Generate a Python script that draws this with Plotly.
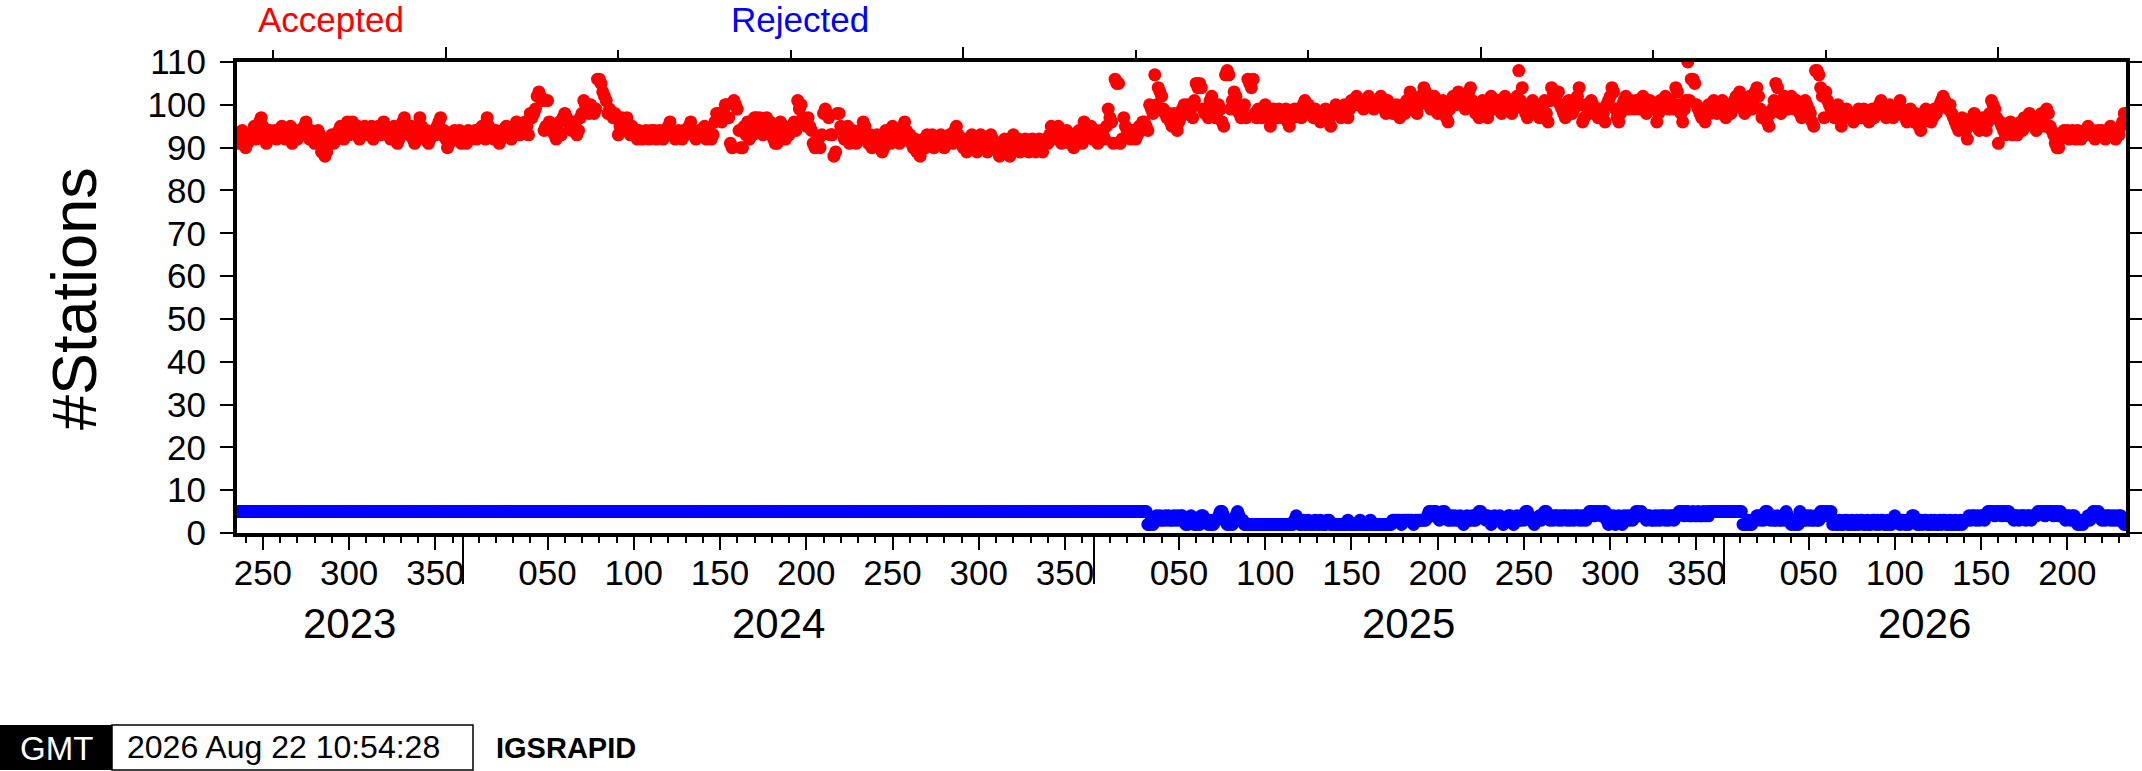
import plotly.graph_objects as go
from datetime import date, timedelta

# ---------------- data ----------------
start_date = date(2023, 8, 23)   # first daily value
range_end = date(2026, 8, 22)

acc_2023 = [92, 91, 93, 94, 92, 90, 91, 93, 92,
            93, 95, 92, 94, 96, 97, 95, 93, 91, 92, 94, 93,
            93, 94, 92, 93, 94, 95, 93, 92, 94, 93,
            95, 91, 93, 94, 92, 93, 94, 93, 95, 96,
            93, 92, 94, 93, 91, 92, 94, 93, 89, 90,
            88, 89, 91, 92, 93, 91,
            93, 92, 94, 95, 93, 92, 94, 96, 93, 95,
            96, 94, 93, 95, 92, 94, 93, 95, 94, 93,
            94, 95, 92, 93, 94, 95, 93, 94, 96, 95,
            93, 94, 92, 93, 95, 94, 91, 92, 95, 96,
            97, 95, 94, 93, 95, 92, 91, 93, 94, 97,
            95, 93, 92, 94, 91, 92, 93, 94, 93, 95,
            96, 97, 93, 94, 92, 90, 91, 92, 93, 94,
            92, 93, 94, 91]

acc_2024 = [92, 93, 91, 94, 93, 92, 93, 94, 92, 93,
            94, 95, 93, 92, 97, 95, 94, 93, 92, 94,
            93, 91, 92, 94, 93, 95, 94, 93, 92, 94,
            95, 96, 94, 93, 95, 94, 96, 95, 93, 98,
            97, 98, 99, 102, 103, 102, 101, 94, 95, 101,
            96, 94, 95, 93, 92, 94, 96, 93, 97, 98,
            97, 96, 95, 94, 96, 95, 93, 94, 97, 98,
            101, 100, 99, 98, 100, 99, 98, 99, 106, 106,
            105, 103, 102, 101, 98, 99, 98, 97, 98, 97,
            93, 95, 97, 96, 95, 97, 94, 93, 95, 94,
            93, 92, 94, 93, 92, 93, 94, 93, 92, 94,
            93, 94, 92, 93, 94, 93, 92, 94, 93, 95,
            96, 94, 93, 92, 93, 94, 93, 92, 94, 93,
            94, 95, 96, 94, 93, 92, 93, 94,
            94, 93, 95, 92, 93, 94, 92, 93, 96, 98,
            98, 97, 96, 98, 100, 100, 97, 91, 90, 101, 100, 99,
            94, 90, 90, 95, 93, 96, 92, 94, 93, 97,
            97, 96, 97, 95, 93, 96, 97, 94, 96, 93,
            92, 91, 91, 94, 96, 93, 95, 92, 94, 93,
            95, 94, 96, 94, 101, 99, 100, 97, 96, 95,
            97, 95, 94, 91, 90, 91, 92, 90, 93, 98,
            99, 98, 97, 93, 93, 88, 89, 98, 98, 95,
            94, 92, 93, 95, 91, 92, 94, 93, 91, 92,
            94, 93, 96, 95, 92, 91, 93, 90, 92, 91,
            93, 90, 92, 89, 90, 94, 93, 92, 91, 95,
            92, 94, 93, 91, 93, 95, 96, 94, 92, 93,
            91, 90, 92, 89, 90, 88, 91, 92, 90, 93,
            92, 91, 93, 90, 92, 91, 92, 93, 92, 90,
            91, 92, 93, 92, 91, 94, 95, 93, 92, 91,
            90, 92, 89, 91, 92, 93, 91, 90, 89, 92,
            93, 92, 90, 91, 89, 92, 93, 92, 91, 90,
            89, 88, 90, 91, 92, 90, 89, 88, 92, 93,
            91, 90, 92, 89, 90, 91, 92, 90, 89, 91,
            92, 90, 89, 91, 92, 90, 89, 91, 92, 91,
            93, 95, 94, 92, 93, 95, 94, 91, 92, 93,
            94, 92, 91, 93, 90, 92, 93, 94, 92, 91,
            96, 95, 94, 93, 95, 92]

acc_2025 = [93, 94, 91, 93,
            94, 93, 92, 95, 99, 97, 96, 91, 106, 105,
            105, 91, 92, 97, 95, 94, 93, 92, 94, 93,
            92, 93, 95, 94, 96, 96, 95, 94, 100, 99,
            98, 107, 100, 104, 103, 102, 99, 98, 97, 98,
            96, 95, 98, 95, 94, 96, 97, 99, 100, 98,
            100, 98, 99, 97, 101, 105, 104, 105, 104, 99,
            98, 99, 97, 101, 102, 99, 97, 98, 100, 99,
            96, 95, 107, 108, 107, 99, 101, 103, 102, 100,
            98, 97, 99, 100, 97, 106, 105, 104, 106, 98,
            97, 99, 98, 97, 98, 100, 99, 97, 95, 98,
            99, 98, 97, 99, 98, 97, 98, 99, 96, 95,
            98, 97, 99, 98, 99, 98, 97, 100, 101, 100,
            100, 99, 98, 97, 99, 98, 97, 96, 98, 97,
            99, 97, 96, 95, 98, 99, 100, 99, 98, 97,
            99, 100, 98, 97, 99, 101, 100, 101, 102, 100,
            101, 100, 99, 101, 100, 102, 101, 100, 99, 101,
            100, 101, 102, 100, 99, 98, 101, 100, 99, 98,
            99, 100, 98, 97, 99, 100, 98, 101, 100, 103,
            101, 100, 99, 98, 100, 102, 101, 104, 103, 101,
            100, 99, 101, 102, 99, 98, 100, 99, 101, 98,
            97, 96, 99, 101, 102, 100, 101, 103, 102, 100,
            101, 99, 102, 103, 104, 101, 100, 98, 99, 97,
            99, 101, 100, 98, 97, 100, 102, 101, 99, 100,
            101, 99, 98, 100, 102, 101, 99, 100, 98, 99,
            100, 102, 108, 101, 104, 99, 98, 97, 99, 100,
            101, 99, 100, 98, 97, 99, 100, 101, 98, 96,
            101, 104, 103, 102, 101, 103, 100, 99, 98, 97,
            99, 101, 100, 98, 99, 101, 102, 104, 100, 96,
            97, 100, 99, 98, 101, 100, 99, 98, 97, 99,
            97, 98, 96, 100, 101, 102, 104, 103, 99, 97,
            96, 98, 100, 101, 102, 100, 99, 101, 100, 99,
            101, 100, 99, 101, 102, 100, 98, 99, 101, 100,
            100, 99, 96, 98, 101, 99, 101, 102, 100, 99,
            101, 100, 99, 104, 103, 100, 98, 96, 99, 101,
            110, 101, 106, 106, 105, 100, 99, 98, 97, 99,
            96, 99, 100, 98, 99, 101, 100, 98, 99, 100,
            101]

acc_2026 = [99, 97, 99, 100, 98, 99, 101, 102, 100,
            103, 101, 99, 98, 100, 101, 102, 99, 100, 103,
            104, 102, 99, 97, 98, 97, 96, 95, 98, 99,
            101, 105, 104, 100, 98, 101, 102, 100, 99, 101,
            102, 100, 99, 101, 100, 98, 97, 99, 101, 100,
            99, 98, 96, 95, 108, 108, 107, 104, 102, 97,
            103, 101, 100, 99, 98, 97, 99, 100, 98, 95,
            97, 98, 99, 98, 97, 98, 96, 97, 98, 99,
            98, 97, 99, 98, 97, 96, 98, 99, 97, 98,
            99, 100, 101, 99, 98, 97, 99, 100, 98, 97,
            99, 98, 100, 101, 99, 98, 97, 96, 98, 99,
            97, 96, 98, 97, 95, 94, 96, 98, 99, 97,
            98, 96, 97, 99, 98, 99, 100, 101, 102, 101,
            100, 99, 100, 98, 97, 96, 95, 94, 96, 97,
            95, 94, 92, 95, 96, 97, 98, 96, 95, 94,
            96, 97, 95, 94, 96, 98, 101, 100, 99, 97,
            91, 96, 95, 94, 93, 95, 94, 96, 93, 95,
            94, 93, 95, 96, 94, 97, 95, 96, 98, 97,
            96, 95, 94, 96, 97, 98, 96, 95, 99, 98,
            95, 94, 93, 91, 90, 90, 92, 93, 94, 93,
            94, 92, 93, 94, 93, 92, 94, 93, 92, 93,
            94, 93, 95, 94, 93, 94, 92, 93, 94, 93,
            94, 93, 92, 94, 93, 95, 94, 93, 92, 94,
            93, 95, 96, 98]

# rejected stations as (value, number of consecutive days)
rej_runs = [
    [5, 528],
    [2, 2], [3, 1], [2, 1], [3, 1],
    [4, 1], [3, 1], [4, 1], [3, 2], [4, 1], [3, 1], [4, 1], [3, 2], [4, 1], [3, 1], [4, 1], [3, 1],
    [4, 2], [3, 1], [2, 2], [3, 1], [4, 1], [3, 1], [2, 2], [3, 1], [2, 1],
    [4, 2], [3, 2],
    [2, 1], [3, 1], [2, 2], [3, 2],
    [4, 1], [5, 2], [4, 1],
    [3, 1], [2, 2], [3, 1], [2, 1], [3, 1],
    [4, 1], [5, 1], [4, 1], [3, 2],
    [2, 29],
    [3, 1], [4, 1], [3, 1],
    [2, 2], [3, 1], [2, 2], [3, 1], [2, 3], [3, 1], [2, 2], [3, 1], [2, 3], [3, 2],
    [2, 10], [3, 1], [2, 6], [3, 1], [2, 5],
    [3, 1], [2, 12],
    [3, 5], [2, 1], [3, 6], [2, 1], [3, 7],
    [4, 1], [5, 2], [4, 1], [5, 2], [4, 1], [3, 1], [4, 1], [5, 2], [4, 1], [3, 2], [4, 1],
    [3, 1], [4, 1], [3, 2], [4, 1], [3, 1], [2, 1], [3, 1], [4, 1], [3, 2], [4, 1], [3, 2], [4, 1],
    [5, 2], [4, 2],
    [3, 1], [4, 1], [3, 1], [2, 1], [3, 1], [4, 1], [3, 2], [4, 1], [3, 1], [2, 1], [3, 2], [4, 2],
    [3, 1], [2, 1], [3, 1], [4, 1], [3, 2], [4, 1], [3, 1],
    [5, 2], [4, 1], [3, 1],
    [3, 1], [2, 1], [3, 2], [4, 1], [3, 1], [4, 1], [5, 2], [4, 1],
    [3, 1], [4, 1], [3, 1], [4, 2],
    [3, 1], [4, 1], [3, 1], [4, 2], [3, 1], [4, 1], [3, 1], [4, 1], [3, 1], [4, 2], [3, 1], [4, 1],
    [3, 1], [4, 1], [3, 1], [4, 1],
    [5, 3], [4, 1], [5, 3], [4, 1], [5, 2],
    [3, 1], [2, 1], [4, 1], [3, 1], [4, 1], [2, 1], [3, 1], [4, 1], [3, 1], [2, 1], [4, 1], [3, 1],
    [4, 1], [3, 1], [4, 1], [3, 1], [4, 1],
    [5, 2], [4, 1], [5, 1], [4, 2], [3, 1], [4, 2], [3, 1],
    [3, 1], [4, 1], [3, 1], [4, 1], [3, 1], [4, 2], [3, 1], [4, 1], [3, 1], [4, 2], [3, 1], [4, 2], [5, 2],
    [5, 1], [4, 1], [5, 2], [4, 2], [5, 1], [4, 1],
    [4, 1], [5, 1], [4, 2], [5, 1], [4, 1], [5, 1], [4, 1], [5, 1],
    [5, 18],
    [2, 3], [3, 1], [2, 2], [3, 1],
    [3, 1], [4, 2], [3, 1], [4, 1], [3, 1], [5, 2],
    [4, 1], [3, 1], [4, 1], [3, 2], [4, 1],
    [3, 2], [4, 1], [3, 1], [5, 1], [4, 1],
    [3, 1], [2, 1], [3, 1], [2, 1], [3, 1], [2, 1], [5, 1], [4, 1], [3, 1],
    [3, 1], [4, 1], [3, 1], [4, 1], [3, 2], [4, 1], [3, 2], [5, 2], [4, 1],
    [5, 2], [4, 1], [5, 1],
    [2, 1], [3, 1], [2, 2], [3, 1], [2, 2], [3, 2], [2, 2], [3, 1], [2, 2], [3, 1], [2, 1], [3, 2],
    [2, 2], [3, 1], [2, 2], [3, 2], [2, 1], [3, 1], [2, 1], [3, 2], [2, 2], [3, 1], [2, 2], [3, 1],
    [4, 1], [3, 1],
    [3, 1], [2, 1], [3, 2], [2, 1], [3, 1], [2, 1], [3, 1],
    [4, 2], [3, 1], [2, 1],
    [2, 1], [3, 1], [2, 1], [3, 2], [2, 2], [3, 1], [2, 1], [3, 1], [2, 2], [3, 1], [2, 1], [3, 2],
    [2, 2], [3, 1], [2, 2], [3, 1], [2, 2], [3, 1], [2, 1], [3, 1],
    [3, 2], [4, 1], [3, 1], [4, 2], [3, 1], [4, 1], [3, 1], [4, 2], [3, 1],
    [4, 1], [5, 4], [4, 1], [5, 3], [4, 1], [5, 2], [4, 1], [5, 1],
    [4, 2], [3, 1], [4, 2], [3, 1], [4, 3], [3, 1], [4, 2], [3, 1], [4, 3],
    [5, 4], [4, 1], [5, 4], [4, 1], [5, 2], [4, 1], [5, 1],
    [4, 2], [3, 1], [4, 2], [3, 1], [4, 2], [3, 1], [2, 2],
    [3, 1], [2, 1], [3, 2], [4, 1], [3, 1],
    [4, 1], [5, 2], [4, 1], [5, 1], [4, 1],
    [3, 1], [4, 1], [3, 1], [4, 2], [3, 1], [4, 1], [3, 1], [4, 1], [3, 1], [4, 2], [3, 1], [2, 1],
]

year_labels = [2023, 2024, 2025, 2026]
doy_major = [50, 100, 150, 200, 250, 300, 350]
mjd_ticks = [60200, 60300, 60400, 60500, 60600, 60700, 60800, 60900, 61000, 61100, 61200]
mjd_long = [60300, 60600, 60900, 61200]

# ---------------- build series ----------------
accepted = acc_2023 + acc_2024 + acc_2025 + acc_2026
rejected = [v for v, n in rej_runs for _ in range(n)]
acc_x = [start_date + timedelta(days=i) for i in range(len(accepted))]
rej_x = [start_date + timedelta(days=i) for i in range(len(rejected))]

W, H = 2142, 771
ML, MR, MT, MB = 237, 16, 62, 238
PW, PH = W - ML - MR, H - MT - MB


def px(xp):
    return (xp - ML) / PW


def py(yp):
    return (H - MB - yp) / PH


def in_range(d):
    return start_date <= d <= range_end


major_vals, major_text, minor_vals = [], [], []
for yr in year_labels:
    jan1 = date(yr, 1, 1)
    ndays = (date(yr + 1, 1, 1) - jan1).days
    for n in range(10, ndays + 1, 10):
        d = jan1 + timedelta(days=n - 1)
        if not in_range(d):
            continue
        if n in doy_major:
            major_vals.append(d)
            major_text.append(f"{n:03d}")
        else:
            minor_vals.append(d)

year_bounds = [date(y, 1, 1) for y in year_labels if in_range(date(y, 1, 1))]
mjd0 = date(1858, 11, 17)
top_short = [mjd0 + timedelta(days=m) for m in mjd_ticks if m not in mjd_long]
top_long = [mjd0 + timedelta(days=m) for m in mjd_long]

FONT = "Liberation Sans, Arial, Helvetica, sans-serif"
xr = [start_date.isoformat(), range_end.isoformat()]

fig = go.Figure()
fig.add_trace(go.Scatter(x=rej_x, y=rejected, mode="markers",
                         marker=dict(color="#0000ff", size=13, line=dict(width=0)),
                         name="Rejected", showlegend=False))
fig.add_trace(go.Scatter(x=acc_x, y=accepted, mode="markers",
                         marker=dict(color="#ff0000", size=13, line=dict(width=0)),
                         name="Accepted", showlegend=False))
for ax in ["x2", "x3", "x4"]:
    fig.add_trace(go.Scatter(x=[], y=[], xaxis=ax, yaxis="y", mode="markers",
                             showlegend=False, hoverinfo="skip"))

common = dict(type="date", range=xr, showgrid=False, zeroline=False, automargin=False)
fig.update_layout(
    width=W, height=H, autosize=False,
    margin=dict(l=ML, r=MR, t=MT, b=MB, pad=0),
    paper_bgcolor="white", plot_bgcolor="white",
    font=dict(family=FONT, color="black"),
    xaxis=dict(**common, showline=True, linewidth=4, linecolor="black", mirror=False,
               ticks="outside", tickvals=major_vals, ticktext=major_text,
               ticklen=13, tickwidth=2, tickcolor="black",
               tickfont=dict(size=35, family=FONT, color="black"),
               ticklabelstandoff=-7,
               minor=dict(tickvals=minor_vals, ticks="outside", ticklen=6,
                          tickwidth=2, tickcolor="black", showgrid=False)),
    xaxis3=dict(**common, overlaying="x", anchor="y", side="bottom", showline=False,
                ticks="outside", tickvals=year_bounds, ticklen=50, tickwidth=2,
                tickcolor="black", showticklabels=False),
    xaxis2=dict(**common, overlaying="x", anchor="y", side="top", showline=True,
                linewidth=4, linecolor="black", ticks="outside", tickvals=top_short,
                ticklen=8, tickwidth=2, tickcolor="black", showticklabels=False),
    xaxis4=dict(**common, overlaying="x", anchor="y", side="top", showline=False,
                ticks="outside", tickvals=top_long, ticklen=14, tickwidth=2,
                tickcolor="black", showticklabels=False),
    yaxis=dict(range=[0, 110], tickvals=list(range(0, 111, 10)), showgrid=False,
               zeroline=False, showline=True, linewidth=4, linecolor="black",
               mirror="ticks", ticks="outside", ticklen=13, tickwidth=2,
               tickcolor="black", tickfont=dict(size=35, family=FONT, color="black"),
               ticklabelstandoff=7, automargin=False),
)


def label(text, x, y, size, color="black", xref="paper", xanchor="center", angle=0):
    return dict(text=text, x=x, y=y, xref=xref, yref="paper", xanchor=xanchor,
                yanchor="middle", textangle=angle, showarrow=False,
                font=dict(size=size, family=FONT, color=color))


ann = [
    label("#Stations", px(74), py(299), 63, angle=-90),
    label("Accepted", px(331), py(19), 35, color="#ff0000"),
    label("Rejected", px(800), py(19), 35, color="#0000ff"),
]
# year labels centred on the visible part of each year
for yr in year_labels:
    a = max(date(yr, 1, 1), start_date)
    b = min(date(yr + 1, 1, 1), range_end)
    mid = a + (b - a) / 2
    ann.append(label(str(yr), mid, py(623), 42, xref="x"))
# GMT time stamp
ann.append(label("GMT", px(56), py(748), 33, color="white"))
ann.append(label("2026 Aug 22 10:54:28", px(283), py(747), 32))
ann.append(label("<b>IGSRAPID</b>", px(494), py(748), 29, xanchor="left"))
fig.update_layout(annotations=ann)

fig.update_layout(shapes=[
    dict(type="rect", xref="paper", yref="paper", x0=px(0), x1=px(112), y0=py(770), y1=py(725),
         fillcolor="black", line=dict(width=0), layer="below"),
    dict(type="rect", xref="paper", yref="paper", x0=px(112), x1=px(473), y0=py(770), y1=py(725),
         fillcolor="white", line=dict(color="black", width=1.5), layer="below"),
])

fig.write_html("out.html", config={"displayModeBar": False},
               post_script="document.body.style.margin='0px';document.body.style.overflow='hidden';")
